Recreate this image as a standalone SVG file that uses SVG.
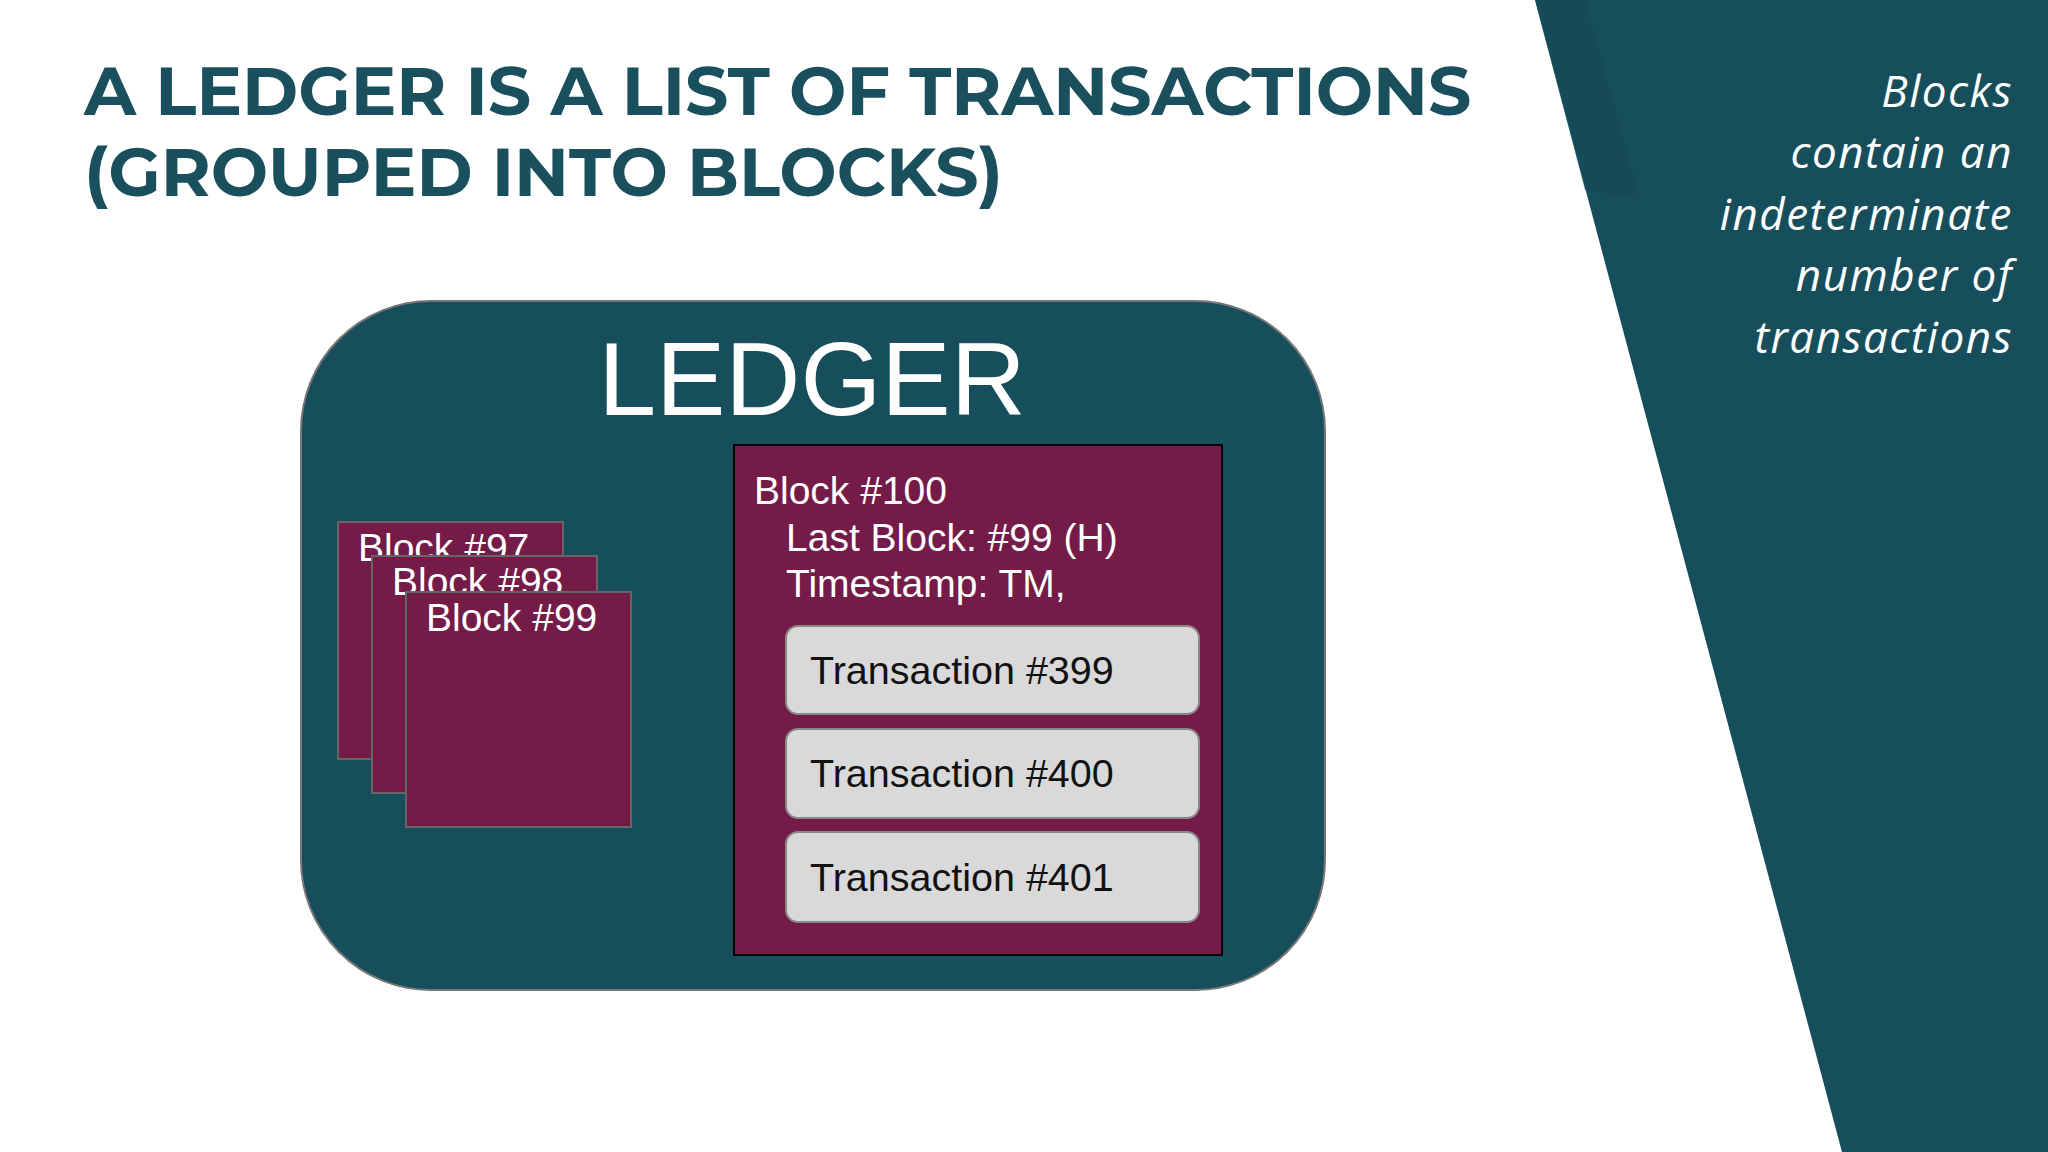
<svg xmlns="http://www.w3.org/2000/svg" width="2048" height="1152" viewBox="0 0 2048 1152">
<style>
.t{font-family:"Liberation Sans",Arial,sans-serif;fill:#fff}
.blk{fill:#741b47;stroke:#666;stroke-width:2}
.tx{fill:#d9d9d9;stroke:#888;stroke-width:2}
.txt{font-family:"Liberation Sans",Arial,sans-serif;font-size:39.5px;fill:#111}
.side{font-family:"Open Sans",sans-serif;font-style:italic;font-weight:400;font-size:44px;fill:#fff;text-anchor:end;letter-spacing:1.5px}
</style>
<rect width="2048" height="1152" fill="#fff"/>
<polygon points="1535,0 2048,0 2048,1152 1842,1152" fill="#174e5c"/>
<polygon points="1535,0 1585,0 1640,200 1585,190" fill="#144756" opacity="0.6"/>
<g font-family="Montserrat,'Open Sans',sans-serif" font-weight="700" font-size="68" fill="#1a4f5e">
<text x="84" y="115">A LEDGER IS A LIST OF TRANSACTIONS</text>
<text x="84" y="196">(GROUPED INTO BLOCKS)</text>
</g>
<g class="side">
<text x="2013" y="107">Blocks</text>
<text x="2013" y="168">contain an</text>
<text x="2013" y="230">indeterminate</text>
<text x="2013" y="291">number of</text>
<text x="2013" y="353">transactions</text>
</g>
<g id="ledger">
<rect x="301" y="301" width="1024" height="689" rx="130" fill="#174e5c" stroke="#777" stroke-width="2"/>
<text class="t" x="812" y="415" font-size="104" text-anchor="middle">LEDGER</text>
</g>
<g id="block97"><rect class="blk" x="338" y="522" width="225" height="237"/><text class="t" x="358" y="561" font-size="39">Block #97</text></g>
<g id="block98"><rect class="blk" x="372" y="556" width="225" height="237"/><text class="t" x="392" y="595" font-size="39">Block #98</text></g>
<g id="block99"><rect class="blk" x="406" y="592" width="225" height="235"/><text class="t" x="426" y="631" font-size="39">Block #99</text></g>
<g id="block100">
<rect x="734" y="445" width="488" height="510" fill="#741b47" stroke="#000" stroke-width="2"/>
<text class="t" x="754" y="504" font-size="39">Block #100</text>
<text class="t" x="786" y="551" font-size="39">Last Block: #99 (H)</text>
<text class="t" x="786" y="597" font-size="39">Timestamp: TM,</text>
</g>
<g id="tx399"><rect class="tx" x="786" y="626" width="413" height="88" rx="12"/><text class="txt" x="810" y="684">Transaction #399</text></g>
<g id="tx400"><rect class="tx" x="786" y="729" width="413" height="89" rx="12"/><text class="txt" x="810" y="787">Transaction #400</text></g>
<g id="tx401"><rect class="tx" x="786" y="832" width="413" height="90" rx="12"/><text class="txt" x="810" y="891">Transaction #401</text></g>
<g id="connectors"/>
</svg>
